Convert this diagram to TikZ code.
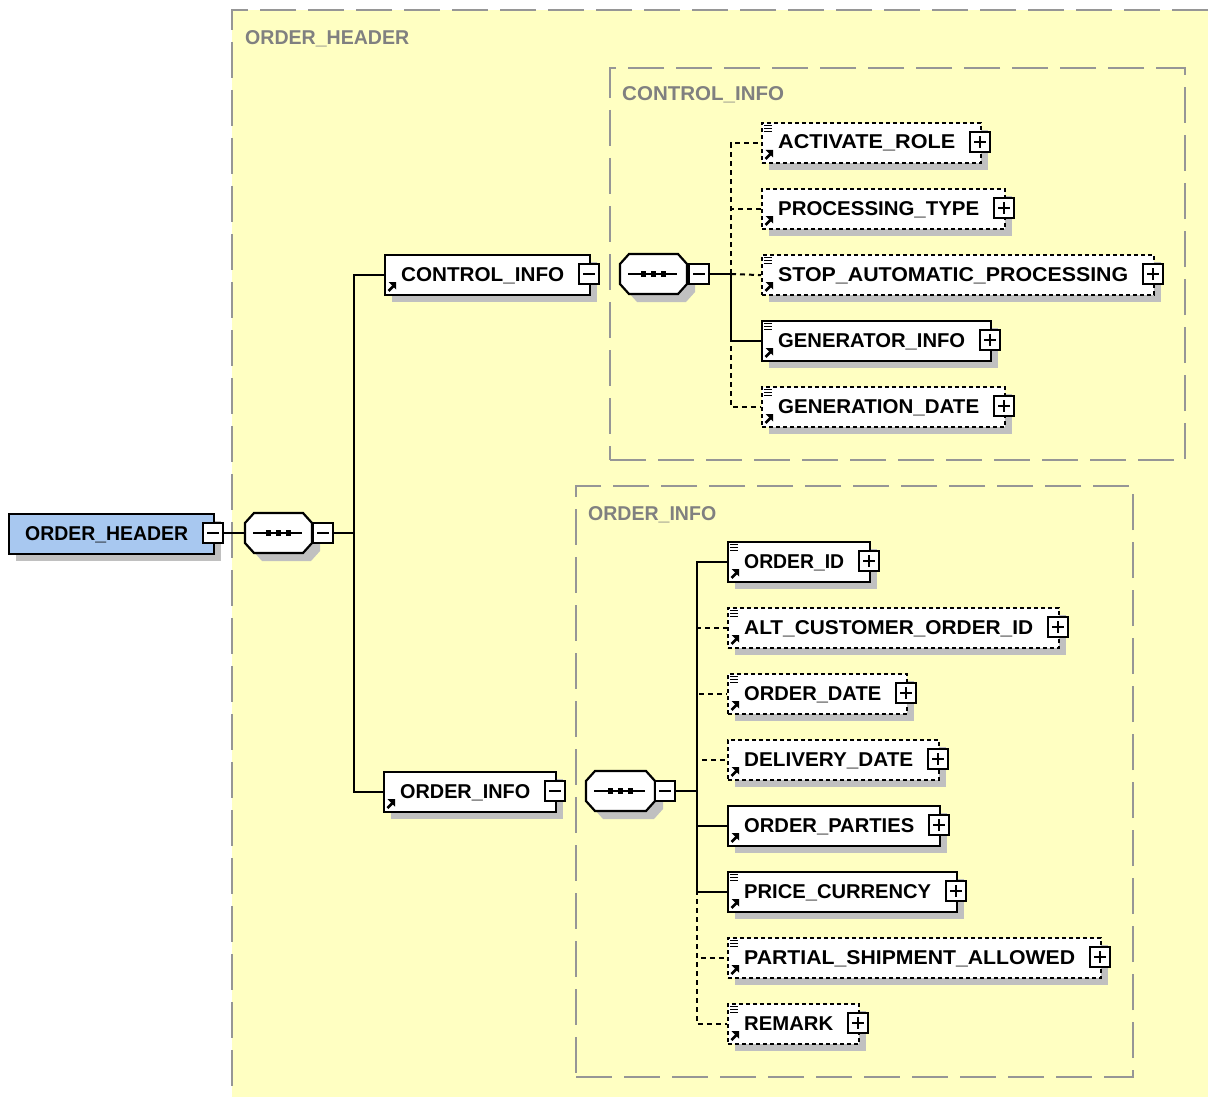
\documentclass[tikz,border=0pt]{standalone}
\usepackage{fontspec}
\setmainfont{Liberation Sans}
\usepackage{graphicx}
\definecolor{bgyellow}{RGB}{255,255,194}
\definecolor{grpgray}{RGB}{150,150,150}
\definecolor{labgray}{RGB}{128,128,128}
\definecolor{shadowc}{RGB}{192,192,192}
\definecolor{rootblue}{RGB}{168,200,240}
\tikzset{
  grpbox/.style={draw=grpgray, line width=2pt, dash pattern=on 36pt off 12pt, inner sep=0pt},
  grplbl/.style={text=labgray, font=\bfseries\fontsize{20}{24}\selectfont, inner sep=0pt},
  lbl/.style={font=\bfseries\fontsize{20}{24}\selectfont, inner sep=0pt},
  reqbox/.style={draw=black, fill=white, line width=2.2pt, inner sep=0pt},
  optbox/.style={draw=black, fill=white, line width=2.2pt, dash pattern=on 4pt off 3pt, inner sep=0pt},
  rootbox/.style={draw=black, fill=rootblue, line width=2.2pt, inner sep=0pt},
  btn/.style={draw=black, fill=white, line width=1.6pt, minimum width=20pt, minimum height=20pt, inner sep=0pt},
  conn/.style={draw=black, line width=2.2pt},
  optconn/.style={draw=black, line width=2pt, dash pattern=on 5pt off 4pt},
  shadowfill/.style={fill=shadowc},
}
% #1 name, #2 x left, #3 y top, #4 x right, #5 label, #6 box style, #7 icons (0,1,2), #8 sign (1 plus, 0 minus)
\newcommand\xelem[8]{%
  \fill[shadowfill] (#2+8,#3+8) rectangle (#4+8,#3+48);
  \node[#6, minimum width={#4-#2}, minimum height=40pt, anchor=north west] (#1) at (#2,#3) {};
  \ifnum#7>0
    \fill (#2+4.5,#3+28) -- (#2+12,#3+28) -- (#2+12,#3+35.5) -- cycle;
    \draw[line width=2.6pt] (#2+4.5,#3+37) -- (#2+9.5,#3+32);
  \fi
  \ifnum#7>1
    \draw[line width=1.3pt] (#2+3,#3+3.5) -- (#2+11,#3+3.5) (#2+3,#3+6.5) -- (#2+11,#3+6.5) (#2+3,#3+9.5) -- (#2+11,#3+9.5);
  \fi
  \pgfmathsetlengthmacro\xw{#4-#2-42}%
  \node[lbl, anchor=base west] (#1-t) at (#2+17,#3+27) {\resizebox{\xw}{\height}{#5}};
  \node[btn] (#1-b) at (#4,#3+20) {};
  \draw[line width=1.6pt] ([xshift=-6pt]#1-b.center) -- ([xshift=6pt]#1-b.center);
  \ifnum#8=1
    \draw[line width=1.6pt] ([yshift=-6pt]#1-b.center) -- ([yshift=6pt]#1-b.center);
  \fi
}
\newcommand\xoct[3]{(#1+9,#3-20) -- (#2-9,#3-20) -- (#2,#3-10) -- (#2,#3+10) -- (#2-9,#3+20) -- (#1+9,#3+20) -- (#1,#3+10) -- (#1,#3-10) -- cycle}
% #1 name, #2 x1, #3 x2, #4 yc, #5 button x
\newcommand\xseq[5]{%
  \fill[shadowfill] \xoct{#2+8}{#3+8}{#4+8};
  \draw[line width=2.2pt, fill=white] \xoct{#2}{#3}{#4};
  \node[inner sep=0pt, minimum width={#3-#2}, minimum height=40pt] (#1) at ({(#2+#3)/2},#4) {};
  \draw[line width=1.8pt] (#2+8,#4) -- (#3-10,#4);
  \fill ({(#2+#3)/2-10},#4) +(-2.8,-2.8) rectangle +(2.8,2.8);
  \fill ({(#2+#3)/2},#4) +(-2.8,-2.8) rectangle +(2.8,2.8);
  \fill ({(#2+#3)/2+10},#4) +(-2.8,-2.8) rectangle +(2.8,2.8);
  \node[btn] (#1-b) at (#5,#4) {};
  \draw[line width=1.6pt] ([xshift=-6pt]#1-b.center) -- ([xshift=6pt]#1-b.center);
}
\begin{document}
\begin{tikzpicture}[x=1pt,y=-1pt]
\useasboundingbox[fill=white] (0,0) rectangle (1208,1097);
% outer group
\fill[bgyellow] (232,10) rectangle (1208,1097);
\draw[grpgray, line width=2pt, dash pattern=on 36pt off 12pt] (1208,10) -- (232,10) -- (232,1097);
\node[grplbl, anchor=base west] (lab-oh) at (245,45) {\resizebox{164pt}{\height}{ORDER\_HEADER}};
% inner groups
\node[grpbox, minimum width=575pt, minimum height=392pt, anchor=north west] (g-ci) at (609,67) {};
\node[grplbl, anchor=base west] (lab-ci) at (622,101) {\resizebox{162pt}{\height}{CONTROL\_INFO}};
\node[grpbox, minimum width=557pt, minimum height=591pt, anchor=north west] (g-oi) at (575,485) {};
\node[grplbl, anchor=base west] (lab-oi) at (588,520) {\resizebox{128pt}{\height}{ORDER\_INFO}};

% trunk coordinates
\coordinate (t0) at (354,533);
\coordinate (t1) at (731,274);
\coordinate (t2) at (697,791);

% root and sequences
\xelem{hdr}{8}{513}{213}{ORDER\_HEADER}{rootbox}{0}{0}
\xseq{s0}{245}{312}{533}{323}
\xelem{ctl}{384}{254}{589}{CONTROL\_INFO}{reqbox}{1}{0}
\xseq{s1}{620}{687}{274}{699}
\xelem{ord}{383}{771}{555}{ORDER\_INFO}{reqbox}{1}{0}
\xseq{s2}{586}{655}{791}{665}

% control children
\xelem{ar}{761}{122}{980}{ACTIVATE\_ROLE}{optbox}{2}{1}
\xelem{pt}{761}{188}{1004}{PROCESSING\_TYPE}{optbox}{1}{1}
\xelem{sap}{761}{254}{1153}{STOP\_AUTOMATIC\_PROCESSING}{optbox}{2}{1}
\xelem{gi}{761}{320}{990}{GENERATOR\_INFO}{reqbox}{2}{1}
\xelem{gd}{761}{386}{1004}{GENERATION\_DATE}{optbox}{2}{1}

% order children
\xelem{oid}{727}{541}{869}{ORDER\_ID}{reqbox}{2}{1}
\xelem{aco}{727}{607}{1058}{ALT\_CUSTOMER\_ORDER\_ID}{optbox}{2}{1}
\xelem{od}{727}{673}{906}{ORDER\_DATE}{optbox}{2}{1}
\xelem{dd}{727}{739}{938}{DELIVERY\_DATE}{optbox}{1}{1}
\xelem{op}{727}{805}{939}{ORDER\_PARTIES}{reqbox}{1}{1}
\xelem{pc}{727}{871}{956}{PRICE\_CURRENCY}{reqbox}{2}{1}
\xelem{psa}{727}{937}{1100}{PARTIAL\_SHIPMENT\_ALLOWED}{optbox}{2}{1}
\xelem{rem}{727}{1003}{858}{REMARK}{optbox}{2}{1}

% connectors
\draw[conn] (hdr-b.east) -- (s0.west);
\draw[conn] (s0-b.east) -- (t0);
\draw[conn] (ctl.west) -| (t0) |- (ord.west);

\draw[conn] (s1-b.east) -- (t1);
\draw[optconn] (t1) |- (ar.west);
\draw[optconn] (t1) |- (pt.west);
\draw[optconn] (t1) -- (sap.west);
\draw[optconn] (t1) |- (gd.west);
\draw[conn] (t1) |- (gi.west);

\draw[conn] (s2-b.east) -- (t2);
\draw[optconn] (t2) |- (aco.west);
\draw[optconn] (t2) |- (od.west);
\draw[optconn] (t2) |- (dd.west);
\draw[optconn] (t2) |- (psa.west);
\draw[optconn] (t2) |- (rem.west);
\draw[conn] (t2) |- (oid.west);
\draw[conn] (t2) |- (op.west);
\draw[conn] (t2) |- (pc.west);
\end{tikzpicture}
\end{document}
